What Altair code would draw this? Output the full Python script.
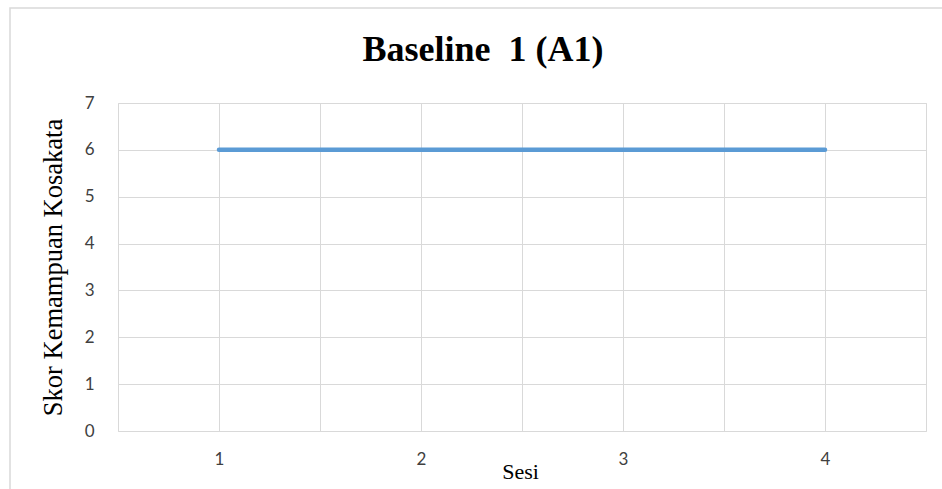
import altair as alt
import pandas as pd

sesi = [1, 2, 3, 4]
skor = [6, 6, 6, 6]
y_ticks = [0, 1, 2, 3, 4, 5, 6, 7]
x_grid = [0.5, 1, 1.5, 2, 2.5, 3, 3.5, 4, 4.5]
title_text = "Baseline\u00a0 1 (A1)"

df = pd.DataFrame({"Sesi": sesi, "Skor": skor})

W, H = 808, 328
PL, PT, PR, PB = 118, 103, 16, 58

x_enc = alt.X(
    "Sesi:Q",
    scale=alt.Scale(domain=[0.5, 4.5], nice=False, zero=False),
    axis=alt.Axis(
        values=x_grid,
        labelExpr="datum.value % 1 == 0 ? format(datum.value, 'd') : ''",
        grid=True, gridColor="#d9d9d9", gridWidth=1,
        ticks=False, domain=False,
        labelFont="Lato", labelFontSize=17, labelColor="#404040",
        labelPadding=20,
        title="Sesi", titleFont="Liberation Serif", titleFontSize=22,
        titleFontWeight="normal", titleColor="#000000",
        titleX=402, titleY=30, titleBaseline="top",
    ),
)
y_enc = alt.Y(
    "Skor:Q",
    scale=alt.Scale(domain=[0, 7], nice=False),
    axis=alt.Axis(
        values=y_ticks,
        grid=True, gridColor="#d9d9d9", gridWidth=1,
        ticks=False, domain=False,
        labelFont="Lato", labelFontSize=17, labelColor="#404040",
        labelPadding=24,
        title="Skor Kemampuan Kosakata", titleFont="Liberation Serif",
        titleFontSize=26.5, titleFontWeight="normal", titleColor="#000000",
        titleX=-51, titleY=164,
    ),
)

border = alt.Chart(alt.Data(values=[{}])).mark_rect(
    fill=None, stroke="#d9d9d9", strokeWidth=1.5, clip=False
).encode(
    x=alt.value(-108), x2=alt.value(W + PR + 10),
    y=alt.value(-95), y2=alt.value(H + PB + 10),
)

title = alt.Chart(alt.Data(values=[{"t": title_text}])).mark_text(
    font="Liberation Serif", fontSize=36, fontWeight="bold", color="#000000",
    align="center", baseline="middle", clip=False,
).encode(text="t:N", x=alt.value(365), y=alt.value(-53))

line = alt.Chart(df).mark_line(
    color="#5B9BD5", strokeWidth=4.5, strokeCap="round"
).encode(x=x_enc, y=y_enc)

chart = alt.layer(border, line, title).properties(
    width=W, height=H,
    autosize=alt.AutoSizeParams(type="none"),
    padding={"left": PL, "top": PT, "right": PR, "bottom": PB},
).configure_view(stroke="#d9d9d9", strokeWidth=1).configure(background="white")

chart.save("out.html", embed_options={"renderer": "svg", "actions": False})
